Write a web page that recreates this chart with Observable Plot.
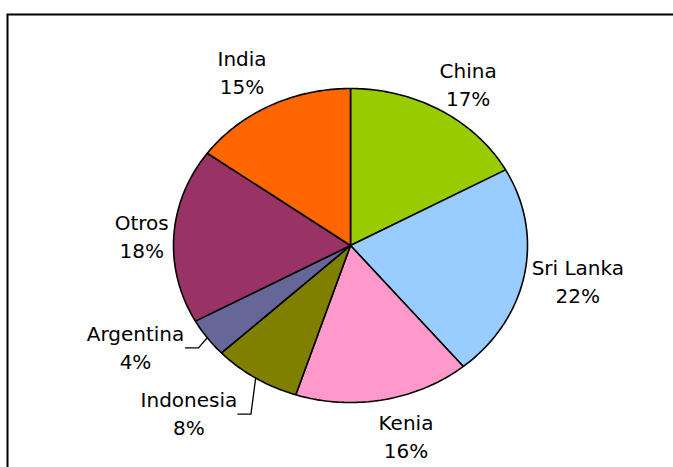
<!DOCTYPE html>
<html>
<head>
<meta charset="utf-8">
<script src="https://cdn.jsdelivr.net/npm/d3@7"></script>
<script src="https://cdn.jsdelivr.net/npm/@observablehq/plot@0.6"></script>
<style>
  html, body { margin: 0; padding: 0; background: #fff; }
  #chart svg { display: block; }
</style>
</head>
<body>
<div id="chart"></div>
<script>
// ---- data (clockwise from 12 o'clock) ----
const countries = ["China", "Sri Lanka", "Kenia", "Indonesia", "Argentina", "Otros", "India"];
const shares    = [17, 22, 16, 8, 4, 18, 15];
const colors    = ["#99CC00", "#99CCFF", "#FF99CC", "#808000", "#666699", "#993366", "#FF6600"];

// ---- layout (pixel nudges of labels relative to radial anchor) ----
const W = 673, H = 467;
const cx = 350, cy = 245, rx = 177, ry = 157;
const labelK = 1.25;
const labelNudge = {
  "China": [5, 6], "Sri Lanka": [10, -2], "Kenia": [14, -3],
  "Indonesia": [-43, 1], "Argentina": [-36, -15], "Otros": [12, 2], "India": [-8, 0]
};
const leaderLabels = {"Indonesia": 49, "Argentina": 50};

const total = d3.sum(shares);
let acc = 0;
const slices = countries.map((name, i) => {
  const a0 = acc / total * 2 * Math.PI;
  acc += shares[i];
  const a1 = acc / total * 2 * Math.PI;
  return {name, value: shares[i], a0, a1, mid: (a0 + a1) / 2};
});

// polygon points for each slice (in unit data space)
const pts = [];
for (const s of slices) {
  pts.push({name: s.name, x: 0, y: 0});
  const n = Math.max(2, Math.ceil((s.a1 - s.a0) / (Math.PI / 180)));
  for (let j = 0; j <= n; j++) {
    const a = s.a0 + (s.a1 - s.a0) * j / n;
    pts.push({name: s.name, x: Math.sin(a), y: Math.cos(a)});
  }
  pts.push({name: s.name, x: 0, y: 0});
}

// labels
const labels = slices.map(s => {
  const [nx, ny] = labelNudge[s.name];
  return {
    name: s.name,
    text: `${s.name}\n${s.value}%`,
    x: labelK * Math.sin(s.mid) + nx / rx,
    y: labelK * Math.cos(s.mid) - ny / ry
  };
});

// leader lines
const leaders = [];
for (const s of slices) {
  if (!(s.name in leaderLabels)) continue;
  const l = labels.find(d => d.name === s.name);
  const hw = leaderLabels[s.name];
  const y0 = l.y - 2 / ry;
  leaders.push({name: s.name, x: l.x + hw / rx, y: y0});
  leaders.push({name: s.name, x: l.x + (hw + 13) / rx, y: y0});
  leaders.push({name: s.name, x: Math.sin(s.mid), y: Math.cos(s.mid)});
}

const chart = Plot.plot({
  width: W, height: H,
  marginLeft: cx - rx, marginRight: W - (cx + rx),
  marginTop: cy - ry, marginBottom: H - (cy + ry),
  x: {domain: [-1, 1], axis: null},
  y: {domain: [-1, 1], axis: null},
  color: {domain: countries, range: colors},
  style: {fontFamily: "DejaVu Sans, Verdana, sans-serif", fontSize: "20px", background: "#fff", color: "#000"},
  marks: [
    Plot.frame({stroke: "#000", strokeWidth: 2,
      insetLeft: -(cx - rx - 7), insetTop: -(cy - ry - 14),
      insetRight: -(W - (cx + rx) + 10), insetBottom: -(H - (cy + ry) + 10)}),
    Plot.line(pts, {x: "x", y: "y", z: "name", fill: "name", stroke: "#000", strokeWidth: 1.6, strokeLinejoin: "miter", curve: "linear"}),
    Plot.line(leaders, {x: "x", y: "y", z: "name", stroke: "#000", strokeWidth: 1.3, curve: "linear"}),
    Plot.text(labels, {x: "x", y: "y", text: "text", fill: "#000", fontSize: 20, lineHeight: 1.4, textAnchor: "middle", lineAnchor: "middle"})
  ]
});
document.getElementById("chart").appendChild(chart);
</script>
</body>
</html>
